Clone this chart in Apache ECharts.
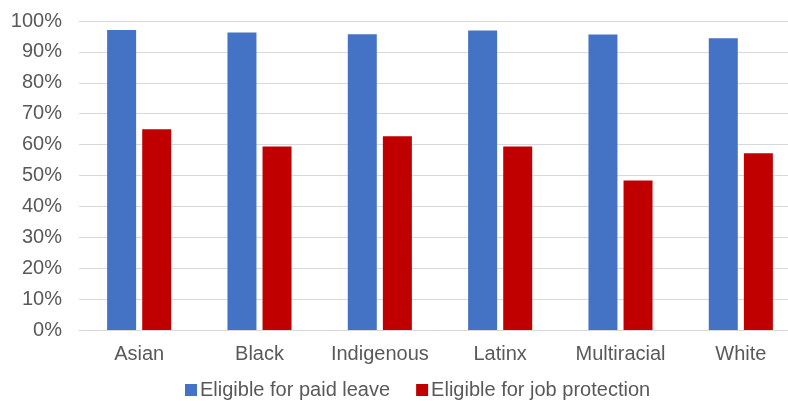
<!DOCTYPE html>
<html><head><meta charset="utf-8">
<script src="https://cdn.jsdelivr.net/npm/echarts@6/dist/echarts.min.js"></script>
<style>html,body{margin:0;padding:0;background:#fff}#c{width:788px;height:401px}</style>
</head><body><div id="c"></div>
<script>
const categories = ['Asian','Black','Indigenous','Latinx','Multiracial','White'];
const paidLeave = [97.1, 96.3, 95.7, 96.9, 95.6, 94.4];
const jobProtection = [65.0, 59.4, 62.7, 59.4, 48.4, 57.2];
const seriesNames = ['Eligible for paid leave','Eligible for job protection'];

const chart = echarts.init(document.getElementById('c'));
const font = 'Liberation Sans, Arial, sans-serif';
chart.setOption({
  animation: false,
  textStyle: {fontFamily: font},
  grid: {left: 79, width: 722, top: 21, height: 309, containLabel: false, outerBoundsMode: 'none'},
  legend: {
    top: 380, left: 185, padding: 0, itemWidth: 12, itemHeight: 12, itemGap: 26,
    icon: 'rect',
    textStyle: {fontSize: 20, color: '#595959', fontFamily: font, padding: [0, 0, 0, -2]},
    data: seriesNames
  },
  xAxis: {
    type: 'category', data: categories,
    axisLine: {lineStyle: {color: '#d9d9d9', width: 1}},
    axisTick: {show: false},
    axisLabel: {fontSize: 20, color: '#595959', margin: 14, fontFamily: font, interval: 0}
  },
  yAxis: {
    type: 'value', min: 0, max: 100, interval: 10,
    axisLabel: {formatter: '{value}%', fontSize: 20, color: '#595959', margin: 17, fontFamily: font},
    splitLine: {lineStyle: {color: '#d9d9d9', width: 1}},
    axisLine: {show: false}, axisTick: {show: false}
  },
  series: [
    {name: seriesNames[0], type: 'bar', data: paidLeave, barWidth: 29, barGap: '21%',
     itemStyle: {color: '#4472c4'}},
    {name: seriesNames[1], type: 'bar', data: jobProtection, barWidth: 29,
     itemStyle: {color: '#c00000'}}
  ]
});
</script></body></html>
